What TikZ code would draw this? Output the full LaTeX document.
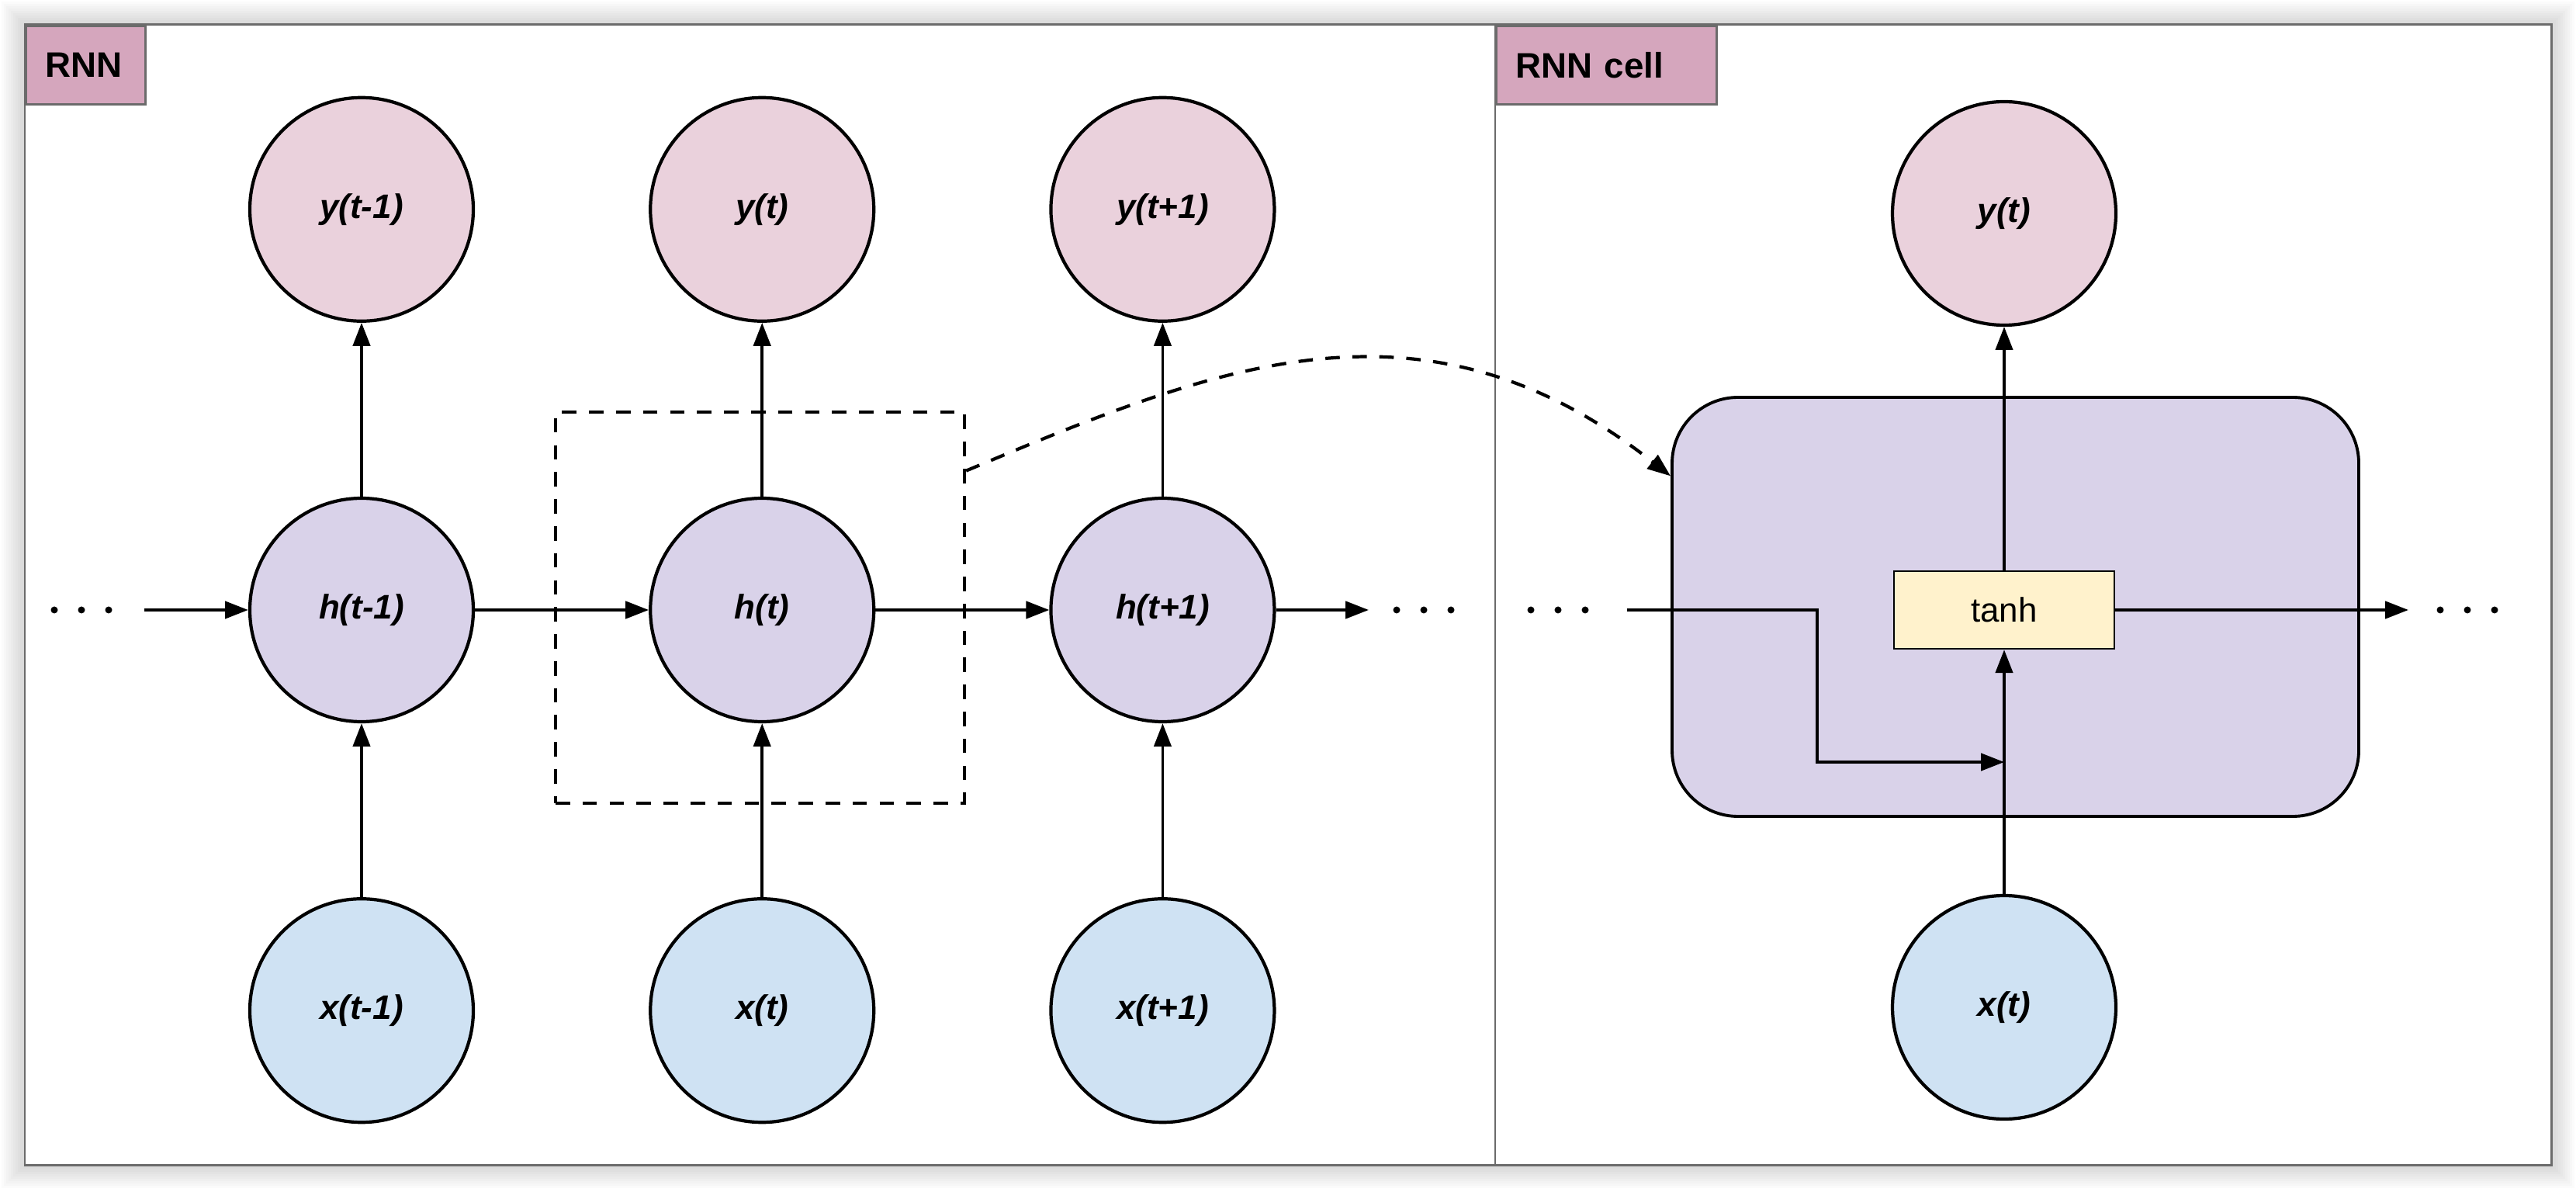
\documentclass[tikz,border=0pt]{standalone}
\usepackage{fontspec}
\setmainfont{Liberation Sans}
\usetikzlibrary{calc,positioning,arrows.meta}
\definecolor{outpink}{HTML}{EAD1DC}
\definecolor{hidpurple}{HTML}{D9D2E9}
\definecolor{inblue}{HTML}{CFE2F3}
\definecolor{tagpink}{HTML}{D5A6BD}
\definecolor{tanhyellow}{HTML}{FFF2CC}
\definecolor{framegray}{HTML}{6B6B6B}

\begin{document}
\begin{tikzpicture}[
  node distance=2.24cm,
  unit/.style={draw,circle,line width=1.2pt,minimum size=2.88cm,inner sep=0pt,font=\fontsize{12.5}{15}\selectfont\bfseries\itshape},
  output/.style={unit,fill=outpink},
  hidden/.style={unit,fill=hidpurple},
  input/.style={unit,fill=inblue},
  tag/.style={draw=framegray,line width=0.8pt,fill=tagpink,anchor=north west,minimum height=1.01cm,inner xsep=0.25cm,align=left,font=\fontsize{13}{15}\selectfont\bfseries},
  zoomline/.style={dash pattern=on 5.3pt off 4.6pt,line width=1.2pt},
  every edge/.style={draw,line width=1.1pt,-{Triangle[length=8.5pt,width=6.3pt]}},
]
  \useasboundingbox (0,0) rectangle (33.2,15.35);

  % Frame with soft shadow
  \foreach \s in {1,...,10}
    \fill[black,opacity=0.014] ({0.32-\s*0.03},{0.34-\s*0.03}) rectangle ({32.88+\s*0.03},{15.03+\s*0.03});
  \draw[framegray,line width=0.85pt,fill=white] (0.32,0.34) rectangle (32.88,15.03);
  \draw[framegray,line width=0.7pt] (19.27,0.34) -- (19.27,15.03);

  % Panel tags
  \node[tag,text width=1.04cm] (tagrnn) at (0.32,15.03) {RNN};
  \node[tag,text width=2.34cm] (tagcell) at (19.27,15.03) {RNN cell};

  % Unrolled network
  \node[hidden] (hprev) at (4.66,7.49) {h(t-1)};
  \node[hidden,right=of hprev] (hcur) {h(t)};
  \node[hidden,right=of hcur] (hnext) {h(t+1)};
  \node[output,above=of hprev] (yprev) {y(t-1)};
  \node[output,above=of hcur] (ycur) {y(t)};
  \node[output,above=of hnext] (ynext) {y(t+1)};
  \node[input,below=of hprev] (xprev) {x(t-1)};
  \node[input,below=of hcur] (xcur) {x(t)};
  \node[input,below=of hnext] (xnext) {x(t+1)};

  % Dashed box around one step
  \node[draw,zoomline,minimum width=5.27cm,minimum height=5.04cm] (step) at (9.795,7.52) {};

  % Cell
  \node[draw,line width=1.1pt,fill=hidpurple,rounded corners=0.85cm,minimum width=8.85cm,minimum height=5.40cm] (cell) at (25.975,7.53) {};
  \node[draw,line width=0.7pt,fill=tanhyellow,minimum width=2.84cm,minimum height=1.0cm,font=\fontsize{12.5}{15}\selectfont] (tanh) at (25.83,7.49) {tanh};
  \node[output] (ycell) at (25.83,12.60) {y(t)};
  \node[input] (xcell) at (25.83,2.37) {x(t)};

  % Ends of the chains
  \coordinate (dotsL) at (1.05,7.49);
  \coordinate (inL) at (1.86,7.49);
  \coordinate (outL) at (17.64,7.49);
  \coordinate (dotsM) at (18.35,7.49);
  \coordinate (dotsN) at (20.08,7.49);
  \coordinate (inR) at (20.97,7.49);
  \coordinate (bend) at (23.42,5.53);
  \coordinate (outR) at (31.04,7.49);
  \coordinate (dotsR) at (31.80,7.49);
  \foreach \c in {dotsL,dotsM,dotsN,dotsR}
    \foreach \d in {-0.35,0,0.35}
      \fill ($(\c)+(\d,0)$) circle (0.045cm);

  % Edges: recurrence
  \path (inL) edge (hprev.west);
  \path (hprev) edge (hcur);
  \path (hcur) edge (hnext);
  \path (hnext.east) edge (outL);

  % Edges: inputs and outputs
  \path (xprev) edge (hprev);
  \path (xcur) edge (hcur);
  \path (xnext) edge (hnext);
  \path (hprev) edge (yprev);
  \path (hcur) edge (ycur);
  \path (hnext) edge (ynext);

  % Edges: inside the cell
  \path (xcell) edge (tanh);
  \path (tanh) edge (ycell);
  \path (tanh) edge (outR);
  \draw[line width=1.1pt,-{Triangle[length=8.5pt,width=6.3pt]}] (inR) -| (bend) -- (bend -| xcell);

  % Zoom into the cell
  \draw[zoomline,-{Triangle[length=8.5pt,width=6.3pt]}]
    ($(step.north east)!0.153!(step.south east)$) .. controls (15.6,10.6) and (18.3,11.75) .. ($(cell.north west)!0.19!(cell.south west)$);
\end{tikzpicture}
\end{document}
